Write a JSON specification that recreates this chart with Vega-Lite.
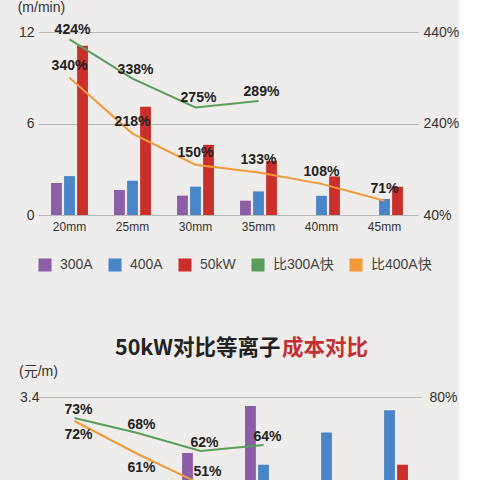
{
  "$schema": "https://vega.github.io/schema/vega-lite/v6.json",
  "background": "#efedeb",
  "padding": {"left": 17, "top": 0, "right": 0, "bottom": 0},
  "datasets": {
    "speed": [
      {"size": "20mm", "series": "300A", "speed": 2.1},
      {"size": "20mm", "series": "400A", "speed": 2.55},
      {"size": "20mm", "series": "50kW", "speed": 11.1},
      {"size": "25mm", "series": "300A", "speed": 1.64},
      {"size": "25mm", "series": "400A", "speed": 2.25},
      {"size": "25mm", "series": "50kW", "speed": 7.1},
      {"size": "30mm", "series": "300A", "speed": 1.27},
      {"size": "30mm", "series": "400A", "speed": 1.86},
      {"size": "30mm", "series": "50kW", "speed": 4.6},
      {"size": "35mm", "series": "300A", "speed": 0.94},
      {"size": "35mm", "series": "400A", "speed": 1.55},
      {"size": "35mm", "series": "50kW", "speed": 3.55},
      {"size": "40mm", "series": "400A", "speed": 1.26},
      {"size": "40mm", "series": "50kW", "speed": 2.53},
      {"size": "45mm", "series": "400A", "speed": 1.05},
      {"size": "45mm", "series": "50kW", "speed": 1.85}
    ],
    "faster": [
      {"size": "20mm", "series": "比300A快", "ratio": 4.24},
      {"size": "25mm", "series": "比300A快", "ratio": 3.38},
      {"size": "30mm", "series": "比300A快", "ratio": 2.75},
      {"size": "35mm", "series": "比300A快", "ratio": 2.89},
      {"size": "20mm", "series": "比400A快", "ratio": 3.4},
      {"size": "25mm", "series": "比400A快", "ratio": 2.18},
      {"size": "30mm", "series": "比400A快", "ratio": 1.5},
      {"size": "35mm", "series": "比400A快", "ratio": 1.33},
      {"size": "40mm", "series": "比400A快", "ratio": 1.08},
      {"size": "45mm", "series": "比400A快", "ratio": 0.71}
    ],
    "cost": [
      {"size": "30mm", "series": "300A", "cost": 2.34},
      {"size": "35mm", "series": "300A", "cost": 3.23},
      {"size": "35mm", "series": "400A", "cost": 2.12},
      {"size": "40mm", "series": "400A", "cost": 2.73},
      {"size": "45mm", "series": "400A", "cost": 3.15},
      {"size": "45mm", "series": "50kW", "cost": 2.12}
    ],
    "saving": [
      {"size": "20mm", "series": "比300A快", "ratio": 0.73},
      {"size": "25mm", "series": "比300A快", "ratio": 0.68},
      {"size": "30mm", "series": "比300A快", "ratio": 0.62},
      {"size": "35mm", "series": "比300A快", "ratio": 0.64},
      {"size": "20mm", "series": "比400A快", "ratio": 0.72},
      {"size": "25mm", "series": "比400A快", "ratio": 0.61},
      {"size": "30mm", "series": "比400A快", "ratio": 0.51}
    ],
    "heading": [
      {"part": "main", "text": "50kW对比等离子"},
      {"part": "accent", "text": "成本对比"}
    ]
  },
  "spacing": 66,
  "resolve": {"scale": {"color": "independent", "xOffset": "independent"}, "legend": {"color": "independent"}},
  "vconcat": [
    {
      "width": 380,
      "height": 183,
      "encoding": {
        "x": {
          "field": "size",
          "type": "nominal",
          "scale": {"domain": ["20mm", "25mm", "30mm", "35mm", "40mm", "45mm"], "paddingInner": 0, "paddingOuter": 0.016, "align": 0},
          "axis": {"title": null, "labelAngle": 0, "labelFontSize": 12, "labelPadding": 6}
        }
      },
      "layer": [
        {
          "data": {"name": "speed"},
          "mark": {"type": "bar"},
          "encoding": {
            "xOffset": {"field": "series", "type": "nominal", "scale": {"domain": ["300A", "400A", "50kW"], "paddingInner": 0.17, "paddingOuter": 1.1}},
            "y": {
              "field": "speed",
              "type": "quantitative",
              "scale": {"domain": [0, 12]},
              "axis": {
                "values": [0, 6, 12],
                "grid": true,
                "labelPadding": 4,
                "title": "(m/min)",
                "titleAngle": 0,
                "titleAlign": "left",
                "titleBaseline": "middle",
                "titleX": -20.8,
                "titleY": -24.3
              }
            },
            "color": {
              "field": "series",
              "type": "nominal",
              "scale": {
                "domain": ["300A", "400A", "50kW", "比300A快", "比400A快"],
                "range": ["#8b5ea7", "#4a86c7", "#c9302c", "#5b9d5c", "#f29a3a"]
              },
              "legend": {
                "orient": "bottom",
                "direction": "horizontal",
                "title": null,
                "symbolType": "square",
                "symbolSize": 170,
                "symbolStrokeWidth": 0,
                "labelFontSize": 14,
                "labelColor": "#444",
                "labelOffset": 8,
                "columnPadding": 15,
                "offset": 26
              }
            }
          }
        },
        {
          "data": {"name": "faster"},
          "encoding": {
            "y": {
              "field": "ratio",
              "type": "quantitative",
              "scale": {"domain": [0.4, 4.4]},
              "axis": {"orient": "right", "values": [0.4, 2.4, 4.4], "format": ".0%", "grid": false, "labelPadding": 5, "title": null}
            }
          },
          "layer": [
            {
              "mark": {"type": "line", "strokeWidth": 2},
              "encoding": {"color": {"field": "series", "type": "nominal", "legend": null}}
            },
            {
              "transform": [{"filter": "datum.series == '比300A快'"}],
              "mark": {"type": "text", "dy": -9, "dx": 3},
              "encoding": {"text": {"field": "ratio", "type": "quantitative", "format": ".0%"}}
            },
            {
              "transform": [{"filter": "datum.series == '比400A快'"}],
              "mark": {"type": "text", "dy": -12},
              "encoding": {"text": {"field": "ratio", "type": "quantitative", "format": ".0%"}}
            }
          ]
        }
      ],
      "resolve": {"scale": {"y": "independent"}}
    },
    {
      "spacing": 4,
      "resolve": {"scale": {"color": "independent", "xOffset": "independent"}, "legend": {"color": "independent"}},
      "vconcat": [
        {
          "width": 380,
          "height": 22,
          "data": {"name": "heading"},
          "layer": [
            {
              "transform": [{"filter": "datum.part == 'main'"}],
              "mark": {"type": "text", "align": "right", "dx": 52.5, "font": "Noto Sans CJK SC", "fontSize": 21.5, "fontWeight": "bold", "color": "#222"},
              "encoding": {"text": {"field": "text", "type": "nominal"}}
            },
            {
              "transform": [{"filter": "datum.part == 'accent'"}],
              "mark": {"type": "text", "align": "left", "dx": 54, "font": "Noto Sans CJK SC", "fontSize": 21.5, "fontWeight": "bold", "color": "#c23036"},
              "encoding": {"text": {"field": "text", "type": "nominal"}}
            }
          ]
        },
        {
          "width": 383,
          "height": 83,
          "encoding": {
            "x": {
              "field": "size",
              "type": "nominal",
              "scale": {"domain": ["20mm", "25mm", "30mm", "35mm", "40mm", "45mm"], "paddingInner": 0, "paddingOuter": 0.04, "align": 1},
              "axis": null
            }
          },
          "layer": [
            {
              "data": {"name": "cost"},
              "mark": {"type": "bar", "clip": true},
              "encoding": {
                "xOffset": {"field": "series", "type": "nominal", "scale": {"domain": ["300A", "400A", "50kW"], "paddingInner": 0.17, "paddingOuter": 1.1}},
                "y": {
                  "field": "cost",
                  "type": "quantitative",
                  "scale": {"domain": [1.832, 3.4], "zero": false},
                  "axis": {
                    "values": [3.4],
                    "format": ".1f",
                    "grid": true,
                    "offset": -5,
                    "labelPadding": 4,
                    "title": "(元/m)",
                    "titleAngle": 0,
                    "titleAlign": "left",
                    "titleBaseline": "middle",
                    "titleX": -24.5,
                    "titleY": -25.3
                  }
                },
                "color": {
                  "field": "series",
                  "type": "nominal",
                  "scale": {
                    "domain": ["300A", "400A", "50kW", "比300A快", "比400A快"],
                    "range": ["#8b5ea7", "#4a86c7", "#c9302c", "#5b9d5c", "#f29a3a"]
                  },
                  "legend": null
                }
              }
            },
            {
              "data": {"name": "saving"},
              "encoding": {
                "y": {
                  "field": "ratio",
                  "type": "quantitative",
                  "scale": {"domain": [0.5233, 0.8], "zero": false},
                  "axis": {"orient": "right", "values": [0.8], "format": ".0%", "grid": false, "labelPadding": 8, "title": null}
                }
              },
              "layer": [
                {
                  "mark": {"type": "line", "strokeWidth": 2, "clip": true},
                  "encoding": {"color": {"field": "series", "type": "nominal", "legend": null}}
                },
                {
                  "transform": [{"filter": "datum.series == '比300A快'"}],
                  "mark": {"type": "text", "dy": -8, "dx": 4, "clip": true},
                  "encoding": {"text": {"field": "ratio", "type": "quantitative", "format": ".0%"}}
                },
                {
                  "transform": [{"filter": "datum.series == '比400A快' && datum.ratio >= 0.55"}],
                  "mark": {"type": "text", "dy": 14, "dx": 4, "clip": true},
                  "encoding": {"text": {"field": "ratio", "type": "quantitative", "format": ".0%"}}
                },
                {
                  "transform": [{"filter": "datum.series == '比400A快' && datum.ratio < 0.55"}],
                  "mark": {"type": "text", "dy": -12, "dx": 7, "clip": true},
                  "encoding": {"text": {"field": "ratio", "type": "quantitative", "format": ".0%"}}
                }
              ]
            }
          ],
          "resolve": {"scale": {"y": "independent"}}
        }
      ]
    }
  ],
  "config": {
    "view": {"stroke": null},
    "font": "Liberation Sans, Noto Sans CJK SC",
    "axis": {
      "domain": false,
      "ticks": false,
      "labelFont": "Liberation Sans, Noto Sans CJK SC",
      "labelColor": "#333",
      "labelFontSize": 14,
      "gridColor": "#b9b7b4",
      "gridWidth": 1,
      "titleFont": "Liberation Sans, Noto Sans CJK SC",
      "titleFontWeight": "normal",
      "titleFontSize": 14,
      "titleColor": "#333"
    },
    "legend": {"labelFont": "Liberation Sans, Noto Sans CJK SC"},
    "text": {"font": "Liberation Sans", "fontWeight": "bold", "fontSize": 14, "color": "#222", "baseline": "middle"}
  }
}
